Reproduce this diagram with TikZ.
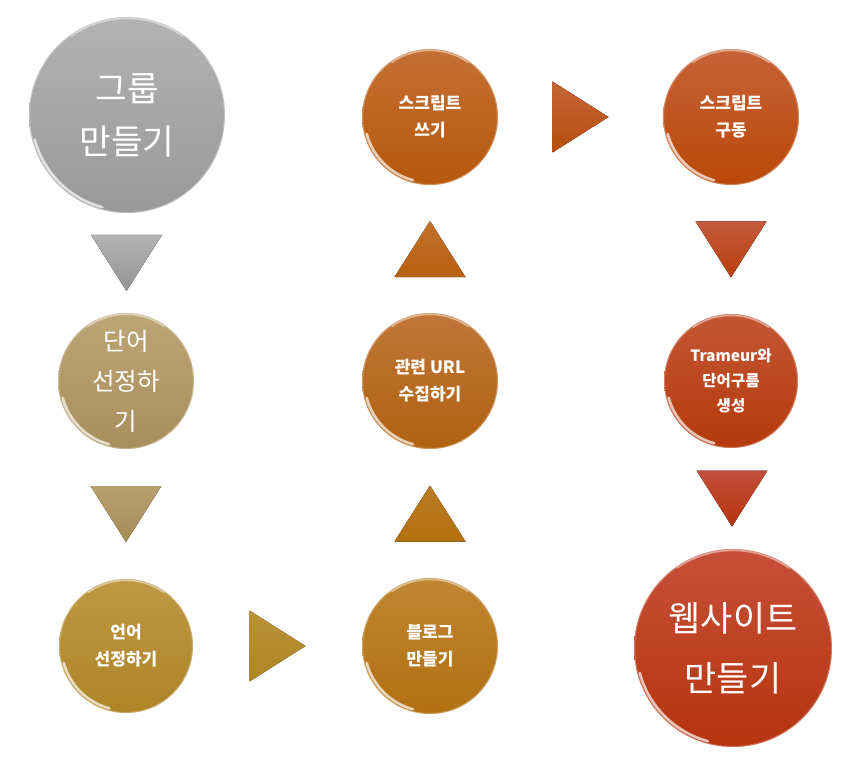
\documentclass[tikz,border=0pt]{standalone}
\usepackage{fontspec}
\setmainfont{Noto Sans CJK KR}
\usetikzlibrary{calc}
\tikzset{
  ball/.style={circle, inner sep=0pt, text=white, align=center, minimum size=#1},
  big/.style={font=\fontsize{34.5}{53}\selectfont},
  mid/.style={font=\fontsize{24.5}{40}\selectfont},
  small/.style={font=\bfseries\fontsize{17}{27}\selectfont},
  tiny/.style={font=\bfseries\fontsize{15.5}{25}\selectfont},
  gloss/.style={white, opacity=.7, line width=2.6pt, line cap=round},
  rim/.style={white, opacity=.3, line width=1pt},
}
\newcommand\Gloss[2]{%
  \draw[rim] (#1.center) circle[radius=#2-0.5];
  \draw[gloss] ($(#1.center)+(105:#2-2.5)$) arc[start angle=105,end angle=165,radius=#2-2.5];
  \draw[white,opacity=.45,line width=1.4pt,line cap=round] ($(#1.center)+(235:#2-1.5)$) arc[start angle=235,end angle=305,radius=#2-1.5];}
\newcommand\ArrTri[4]{%
  \fill[top color=#3, bottom color=#4, shift={#1}, rotate=#2] (-28,-35.5) -- (28,0) -- (-28,35.5) -- cycle;}
\begin{document}
\begin{tikzpicture}[x=1pt,y=-1pt]
\useasboundingbox (0,0) rectangle (862,770);
% circles
\node[ball=196, big, top color=black!30, bottom color=black!40] (g) at (127,115) {그룹\\만들기};
\node[ball=136, mid, top color={rgb,255:red,188;green,165;blue,118}, bottom color={rgb,255:red,168;green,142;blue,92}] (w) at (126,381) {단어\\선정하\\기};
\node[ball=134, small, top color={rgb,255:red,190;green,152;blue,68}, bottom color={rgb,255:red,174;green,132;blue,38}] (l) at (126,646) {언어\\선정하기};
\node[ball=136, small, top color={rgb,255:red,192;green,134;blue,50}, bottom color={rgb,255:red,178;green,112;blue,16}] (b) at (430,646) {블로그\\만들기};
\node[ball=136, small, top color={rgb,255:red,192;green,118;blue,56}, bottom color={rgb,255:red,176;green,98;blue,16}] (u) at (430,381) {관련 URL\\수집하기};
\node[ball=136, small, top color={rgb,255:red,196;green,112;blue,52}, bottom color={rgb,255:red,182;green,88;blue,12}] (s) at (430,117) {스크립트\\쓰기};
\node[ball=136, small, top color={rgb,255:red,198;green,98;blue,54}, bottom color={rgb,255:red,186;green,72;blue,10}] (r) at (731,117) {스크립트\\구동};
\node[ball=134, tiny, top color={rgb,255:red,196;green,86;blue,52}, bottom color={rgb,255:red,180;green,58;blue,12}] (t) at (731,381) {Trameur와\\단어구름\\생성};
\node[ball=198, font=\fontsize{35}{60}\selectfont, top color={rgb,255:red,198;green,80;blue,56}, bottom color={rgb,255:red,182;green,52;blue,14}] (web) at (733,648) {웹사이트\\만들기};
\Gloss{g}{98}
\Gloss{w}{68}
\Gloss{l}{67}
\Gloss{b}{68}
\Gloss{u}{68}
\Gloss{s}{68}
\Gloss{r}{68}
\Gloss{t}{67}
\Gloss{web}{99}
% arrows (triangles)
\ArrTri{($(g.south)!0.5!(w.north)$)}{-90}{black!30}{black!42}
\ArrTri{($(w.south)!0.5!(l.north)$)}{-90}{{rgb,255:red,184;green,160;blue,110}}{{rgb,255:red,166;green,140;blue,86}}
\ArrTri{($(l.east)!0.5!(b.west)$)}{0}{{rgb,255:red,184;green,146;blue,56}}{{rgb,255:red,176;green,134;blue,36}}
\ArrTri{($(b.north)!0.5!(u.south)$)}{90}{{rgb,255:red,186;green,124;blue,36}}{{rgb,255:red,180;green,112;blue,14}}
\ArrTri{($(u.north)!0.5!(s.south)$)}{90}{{rgb,255:red,192;green,112;blue,44}}{{rgb,255:red,184;green,96;blue,16}}
\ArrTri{($(s.east)!0.5!(r.west)$)}{0}{{rgb,255:red,196;green,100;blue,54}}{{rgb,255:red,184;green,78;blue,14}}
\ArrTri{($(r.south)!0.5!(t.north)$)}{-90}{{rgb,255:red,196;green,90;blue,60}}{{rgb,255:red,184;green,62;blue,14}}
\ArrTri{($(t.south)!0.5!(web.north)$)}{-90}{{rgb,255:red,194;green,78;blue,58}}{{rgb,255:red,182;green,52;blue,14}}
\end{tikzpicture}
\end{document}
